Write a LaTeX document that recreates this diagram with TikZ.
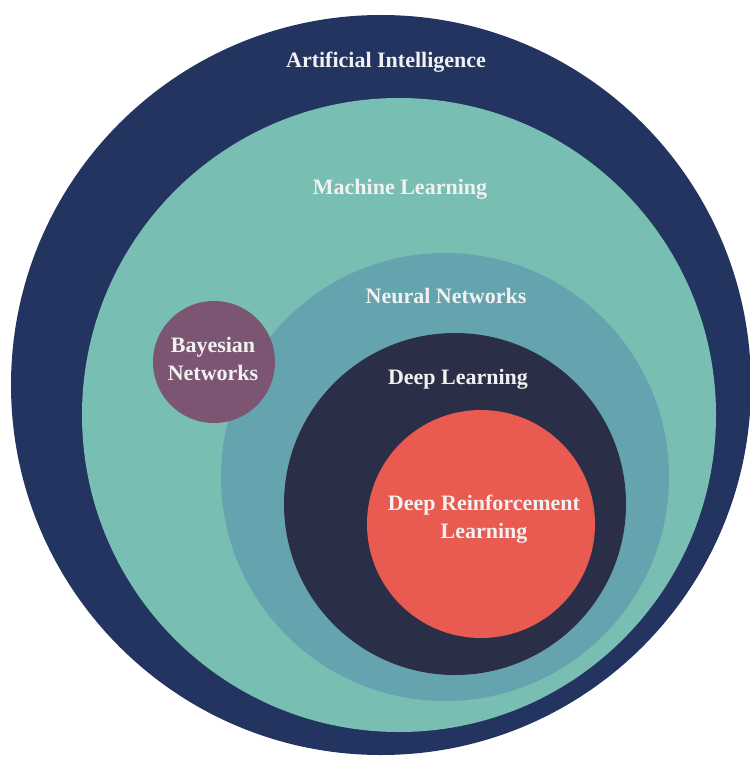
\documentclass[tikz,border=0pt]{standalone}
\usepackage{fontspec}
\setmainfont{Liberation Serif}
\usetikzlibrary{positioning}

\definecolor{ainavy}{HTML}{233460}
\definecolor{mlteal}{HTML}{78BEB2}
\definecolor{nnblue}{HTML}{65A4AE}
\definecolor{dlnight}{HTML}{2B2E47}
\definecolor{drlred}{HTML}{E95A50}
\definecolor{bnplum}{HTML}{7C5573}
\definecolor{tagwhite}{HTML}{F1F1F1}

\begin{document}
\begin{tikzpicture}[
    x=1pt, y=-1pt,
    field/.style = {circle, draw=none, inner sep=0pt},
    tag/.style   = {text=tagwhite, align=center,
                    font=\fontsize{22}{28}\selectfont\bfseries}
]

% canvas
\useasboundingbox[fill=white] (0,0) rectangle (749,759);

% nested fields, outermost first
\node[field, fill=ainavy,  minimum size=740pt] (ai)  at (381,385) {};
\node[field, fill=mlteal,  minimum size=634pt] (ml)  at (399,415) {};
\node[field, fill=nnblue,  minimum size=448pt] (nn)  at (445,477) {};
\node[field, fill=dlnight, minimum size=342pt] (dl)  at (455,504) {};
\node[field, fill=drlred,  minimum size=228pt] (drl) at (481,524) {};
\node[field, fill=bnplum,  minimum size=122pt] (bn)  at (214,362) {};

% labels
\node[tag] (ailabel)  at (386,62)  {Artificial Intelligence};
\node[tag] (mllabel)  at (400,189) {Machine Learning};
\node[tag] (nnlabel)  at (446,296) {Neural Networks};
\node[tag] (dllabel)  at (458,379) {Deep Learning};
\node[tag] (drllabel) at (484,519) {Deep Reinforcement\\Learning};
\node[tag] (bnlabel)  at (213,359) {Bayesian\\Networks};

\end{tikzpicture}
\end{document}
